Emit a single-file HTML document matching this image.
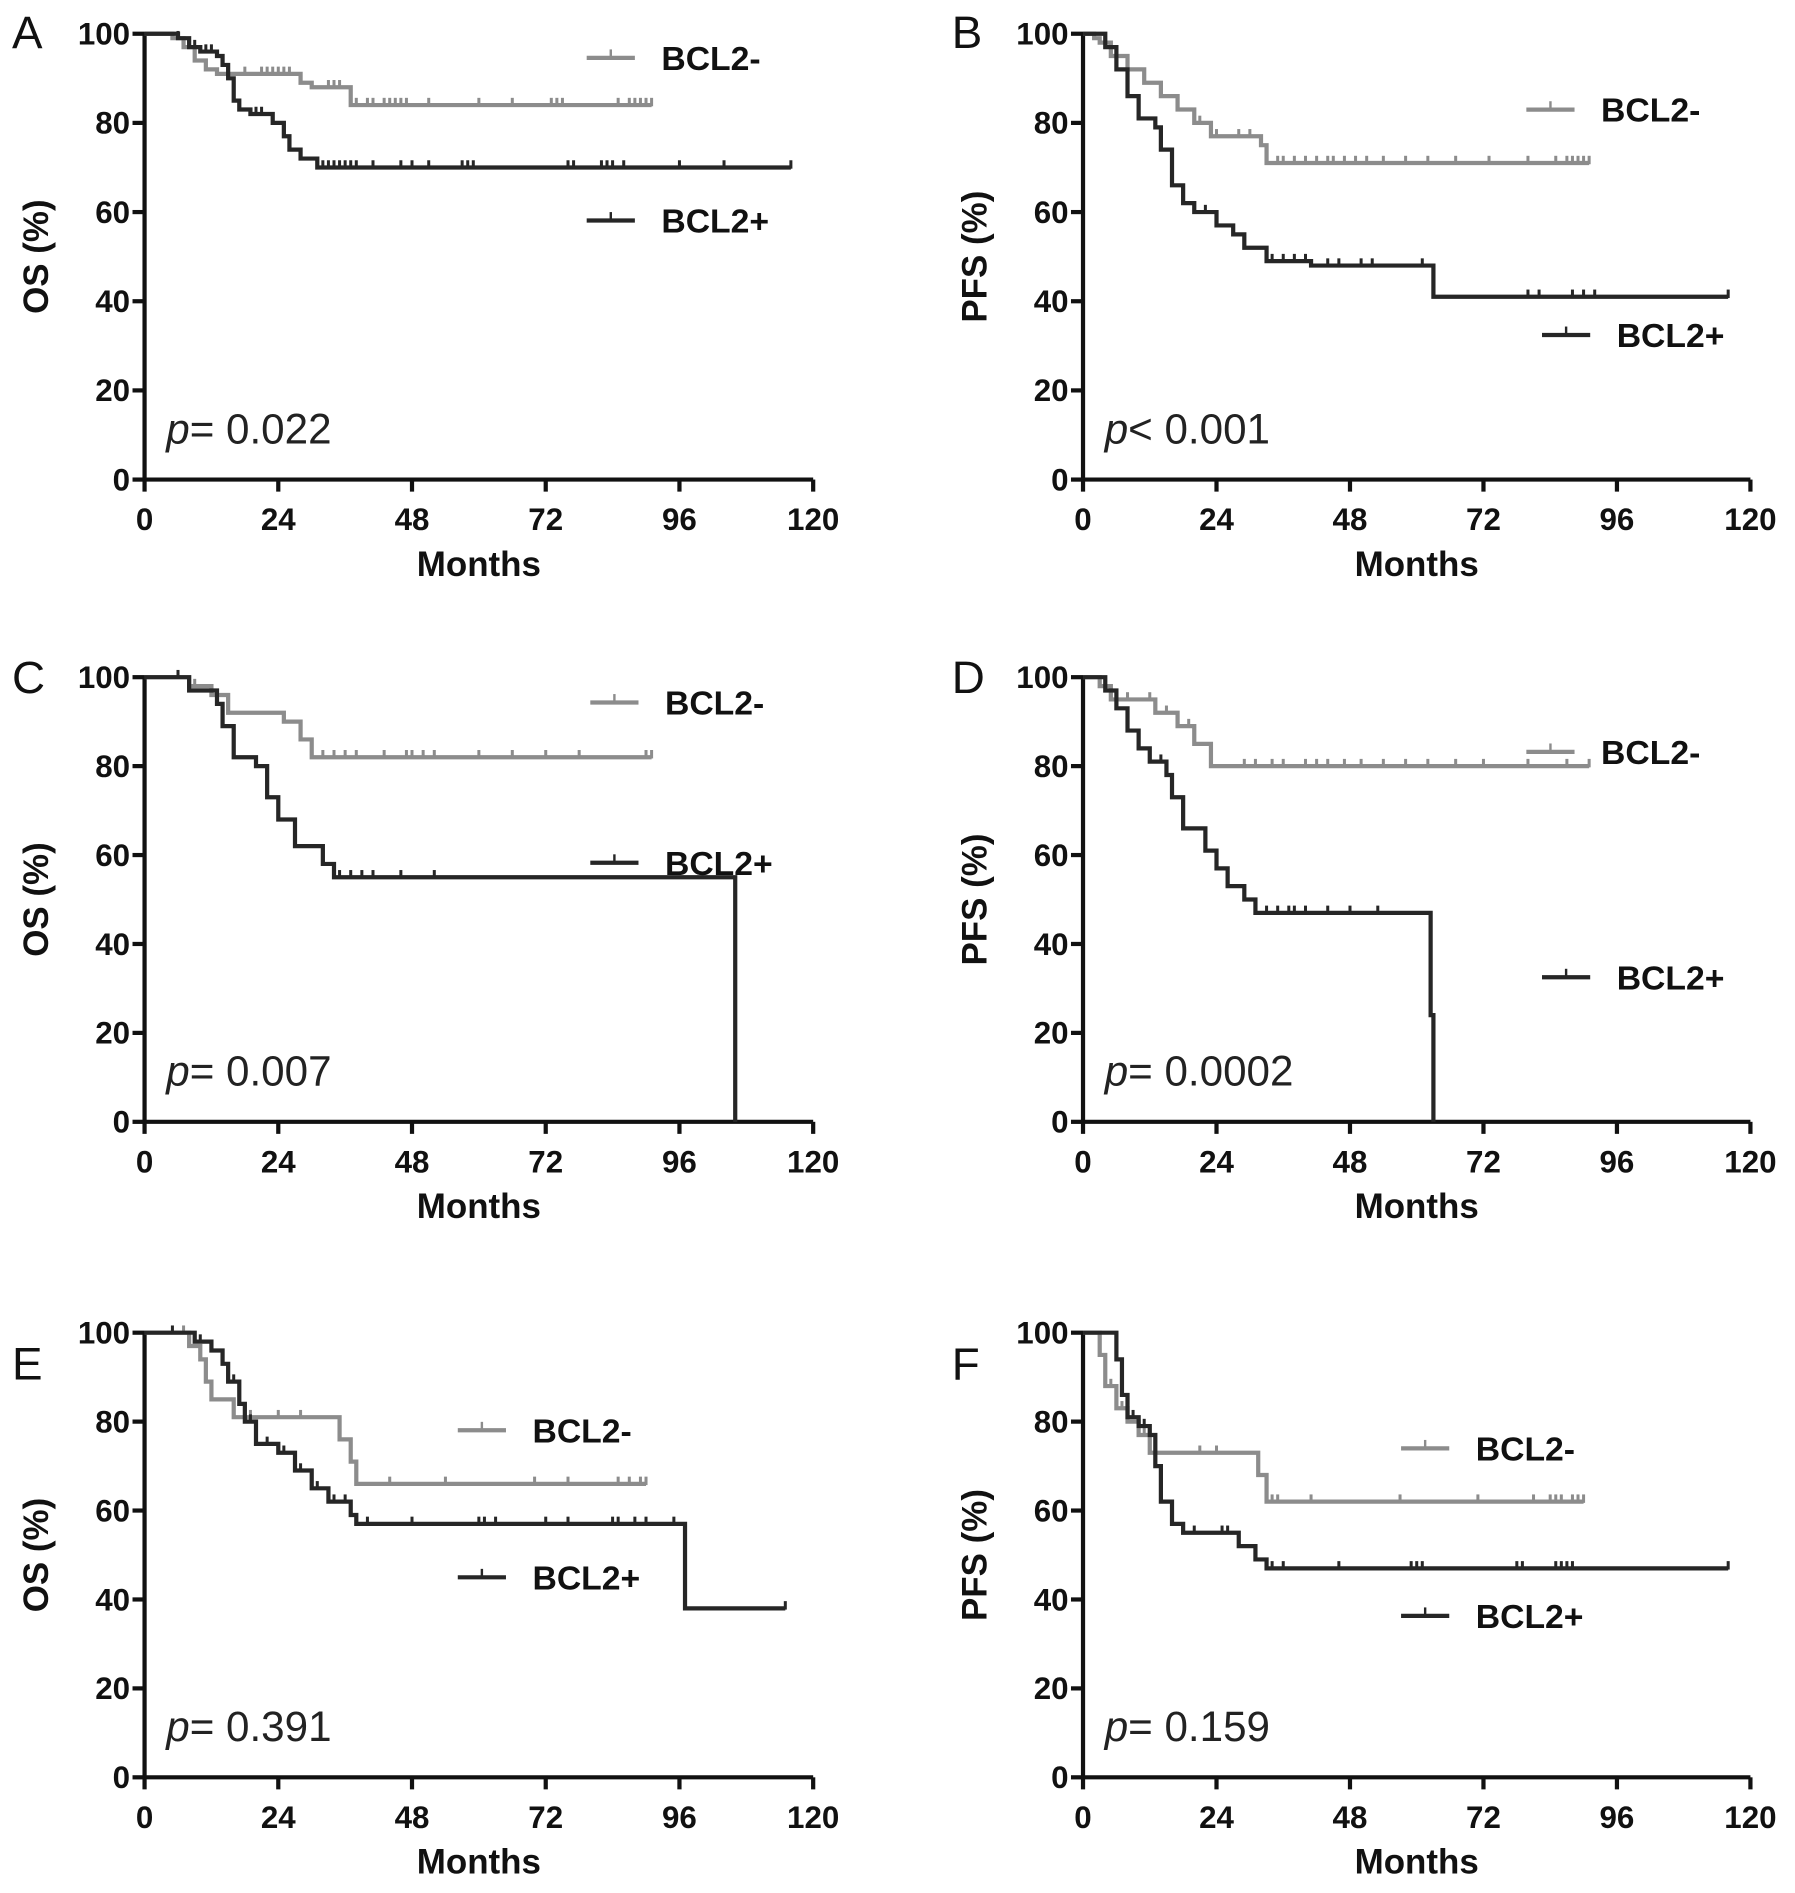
<!DOCTYPE html>
<html><head><meta charset="utf-8"><style>
html,body{margin:0;padding:0;background:#fff}
svg{display:block}
text{font-family:"Liberation Sans",Arial,sans-serif}
</style></head><body>
<svg id="fig" width="1795" height="1893" viewBox="0 0 1490 1571" preserveAspectRatio="none" xmlns="http://www.w3.org/2000/svg"></svg>
<script>
// ---- data (months, survival %) ----
const xTicks=[0,24,48,72,96,120];
const yTicks=[0,20,40,60,80,100];
// Panel A OS
const aNegT=[5,7,9,11,13,28,30,37,91];
const aNegS=[99,97,94,92,91,89,88,84,84];
const aNegC=[15,18,21,22,23,24,25,26,33,34,35,38,40,41,43,44,45,46,47,51,60,66,73,74,75,85,87,88,89,90,91];
const aPosT=[5,6,8,10,13,14,15,16,17,19,23,25,26,28,31,116];
const aPosS=[100,99,97,96,95,93,90,85,83,82,80,77,74,72,70,70];
const aPosC=[6,9,11,12,20,21,32,33,34,35,36,37,38,41,46,48,51,57,58,59,76,77,82,83,84,86,96,104,116];
// Panel B PFS
const bNegT=[2,3,5,8,11,14,17,20,23,32,33,91];
const bNegS=[99,98,95,92,89,86,83,80,77,75,71,71];
const bNegC=[21,24,28,30,35,36,38,40,42,44,45,47,49,51,54,58,62,67,73,80,85,87,88,89,90,91];
const bPosT=[3,4,6,8,10,13,14,16,18,20,24,27,29,33,41,63,116];
const bPosS=[100,97,92,86,81,79,74,66,62,60,57,55,52,49,48,41,41];
const bPosC=[20,22,24,34,36,38,40,44,46,50,52,61,80,82,88,90,92,116];
// Panel C OS
const cNegT=[5,8,12,15,25,28,30,91];
const cNegS=[100,98,96,92,90,86,82,82];
const cNegC=[6,9,12,32,34,36,38,43,47,48,50,52,60,66,72,78,90,91];
const cPosT=[5,8,13,14,16,20,22,24,27,32,34,106,106.01];
const cPosS=[100,97,94,89,82,80,73,68,62,58,55,55,0];
const cPosC=[6,14,35,37,39,41,46,52];
// Panel D PFS
const dNegT=[2,3,5,13,17,20,23,91];
const dNegS=[100,98,95,92,89,85,80,80];
const dNegC=[4,6,8,12,15,19,29,31,34,36,40,42,44,47,50,54,58,62,67,72,80,87,91];
const dPosT=[2,4,6,8,10,12,15,16,18,22,24,26,29,31,62,62.5,63];
const dPosS=[100,97,93,88,84,81,78,73,66,61,57,53,50,47,47,24,0];
const dPosC=[12,14,33,35,37,38,40,44,48,53];
// Panel E OS
const eNegT=[5,8,10,11,12,16,34,35,37,38,90];
const eNegS=[100,97,94,89,85,81,81,76,71,66,66];
const eNegC=[7,19,24,28,44,54,70,76,85,87,89,90];
const ePosT=[6,9,12,14,15,17,18,20,24,27,30,33,37,38,96,97,115];
const ePosS=[100,98,96,93,89,84,80,75,73,69,65,62,59,57,57,38,38];
const ePosC=[5,10,12,16,19,22,25,28,31,34,36,40,48,60,61,63,72,76,84,85,88,90,95,115];
// Panel F PFS
const fNegT=[2,3,4,6,8,10,12,31,31.5,33,90];
const fNegS=[100,95,88,83,80,77,73,73,68,62,62];
const fNegC=[5,7,10,11,12,21,24,34,35,41,57,71,81,84,85,86,88,89,90];
const fPosT=[5,6,7,8,10,12,13,14,16,18,27,28,31,33,116];
const fPosS=[100,94,86,81,79,77,70,62,57,55,55,52,49,47,47];
const fPosC=[9,10,11,12,20,25,26,34,36,46,59,60,61,78,79,85,86,87,88,116];

const panels=[
 {id:'a',L:'A',x0:120,x1:675,yTop:28,yBot:398,ylab:'OS (%)',p:'= 0.022',
  neg:[aNegT,aNegS,aNegC],pos:[aPosT,aPosS,aPosC],legN:[487,48],legP:[487,183],letter:[10,40]},
 {id:'b',L:'B',x0:899,x1:1453,yTop:28,yBot:398,ylab:'PFS (%)',p:'< 0.001',
  neg:[bNegT,bNegS,bNegC],pos:[bPosT,bPosS,bPosC],legN:[1267,91],legP:[1280,278],letter:[790,40]},
 {id:'c',L:'C',x0:120,x1:675,yTop:562,yBot:931,ylab:'OS (%)',p:'= 0.007',
  neg:[cNegT,cNegS,cNegC],pos:[cPosT,cPosS,cPosC],legN:[490,583],legP:[490,716],letter:[10,575]},
 {id:'d',L:'D',x0:899,x1:1453,yTop:562,yBot:931,ylab:'PFS (%)',p:'= 0.0002',
  neg:[dNegT,dNegS,dNegC],pos:[dPosT,dPosS,dPosC],legN:[1267,624],legP:[1280,811],letter:[790,575]},
 {id:'e',L:'E',x0:120,x1:675,yTop:1106,yBot:1475,ylab:'OS (%)',p:'= 0.391',
  neg:[eNegT,eNegS,eNegC],pos:[ePosT,ePosS,ePosC],legN:[380,1187],legP:[380,1309],letter:[10,1145]},
 {id:'f',L:'F',x0:899,x1:1453,yTop:1106,yBot:1475,ylab:'PFS (%)',p:'= 0.159',
  neg:[fNegT,fNegS,fNegC],pos:[fPosT,fPosS,fPosC],legN:[1163,1202],legP:[1163,1341],letter:[790,1145]}
];
const NS='http://www.w3.org/2000/svg';
const svg=document.getElementById('fig');
function mk(tag,attrs,parent,txt){const e=document.createElementNS(NS,tag);for(const k in attrs)e.setAttribute(k,attrs[k]);if(txt!==undefined)e.textContent=txt;(parent||svg).appendChild(e);return e;}
const GRAY='#8c8c8c',DARK='#262626';
panels.forEach(P=>{
  const g=mk('g',{});
  
  
  const X=t=>P.x0+(P.x1-P.x0)*t/120;
  const Y=s=>P.yBot-(P.yBot-P.yTop)*s/100;
  const ax=mk('path',{d:`M${P.x0},${P.yTop}V${P.yBot}H${P.x1}`,stroke:'#111','stroke-width':3.5,fill:'none'},g);
  
  
  xTicks.forEach(t=>{
    mk('line',{x1:X(t),x2:X(t),y1:P.yBot,y2:P.yBot+10,stroke:'#111','stroke-width':3.5},g);
    const tl=mk('text',{x:X(t),y:P.yBot+42,'text-anchor':'middle','font-size':26,'font-weight':'bold',fill:'#111'},g,t);
    
    
  });
  yTicks.forEach(v=>{
    mk('line',{x1:P.x0-10,x2:P.x0,y1:Y(v),y2:Y(v),stroke:'#111','stroke-width':3.5},g);
    const tl=mk('text',{x:P.x0-12,y:Y(v)+9,'text-anchor':'end','font-size':26,'font-weight':'bold',fill:'#111'},g,v);
    
    
  });
  const xt=mk('text',{x:(P.x0+P.x1)/2,y:P.yBot+80,'text-anchor':'middle','font-size':29,'font-weight':'bold',fill:'#111'},g,'Months');
  
  
  const cy=(P.yTop+P.yBot)/2, cx=P.x0-80;
  const yt=mk('text',{x:cx,y:cy,transform:`rotate(-90 ${cx} ${cy})`,'text-anchor':'middle','font-size':29,'font-weight':'bold',fill:'#111'},g,P.ylab);
  
  
  const lt=mk('text',{x:P.letter[0],y:P.letter[1],'font-size':38,fill:'#111'},g,P.L);
  
  
  const pt=mk('text',{x:P.x0+18,y:P.yBot-30,'font-size':35,fill:'#222'},g);
  
  
  mk('tspan',{'font-style':'italic'},pt,'p');
  mk('tspan',{},pt,P.p);
  [[P.neg,GRAY,'bcl2-neg',P.legN,'BCL2-'],[P.pos,DARK,'bcl2-pos',P.legP,'BCL2+']].forEach(([S,col,nm,leg,label])=>{
    const [T,V,C]=S;
    let d=`M${X(0)},${Y(100)}`;
    for(let i=0;i<T.length;i++){d+=`H${X(T[i])}V${Y(V[i])}`;}
    const path=mk('path',{d,stroke:col,'stroke-width':3.5,fill:'none'},g);
    
    
    const sv=t=>{let s=100;for(let i=0;i<T.length;i++){if(T[i]<=t)s=V[i];}return s;};
    C.forEach(t=>{
      const cm=mk('line',{x1:X(t),x2:X(t),y1:Y(sv(t))-6,y2:Y(sv(t))+1,stroke:col,'stroke-width':2.5},g);
      
      
    });
    const lg=mk('g',{},g);
    
    
    mk('line',{x1:leg[0],x2:leg[0]+40,y1:leg[1],y2:leg[1],stroke:col,'stroke-width':3.5},lg);
    mk('line',{x1:leg[0]+20,x2:leg[0]+20,y1:leg[1]-7,y2:leg[1],stroke:col,'stroke-width':2},lg);
    mk('text',{x:leg[0]+62,y:leg[1]+10,'font-size':28,'font-weight':'bold',fill:'#111'},lg,label);
  });
});
</script>
</body></html>
